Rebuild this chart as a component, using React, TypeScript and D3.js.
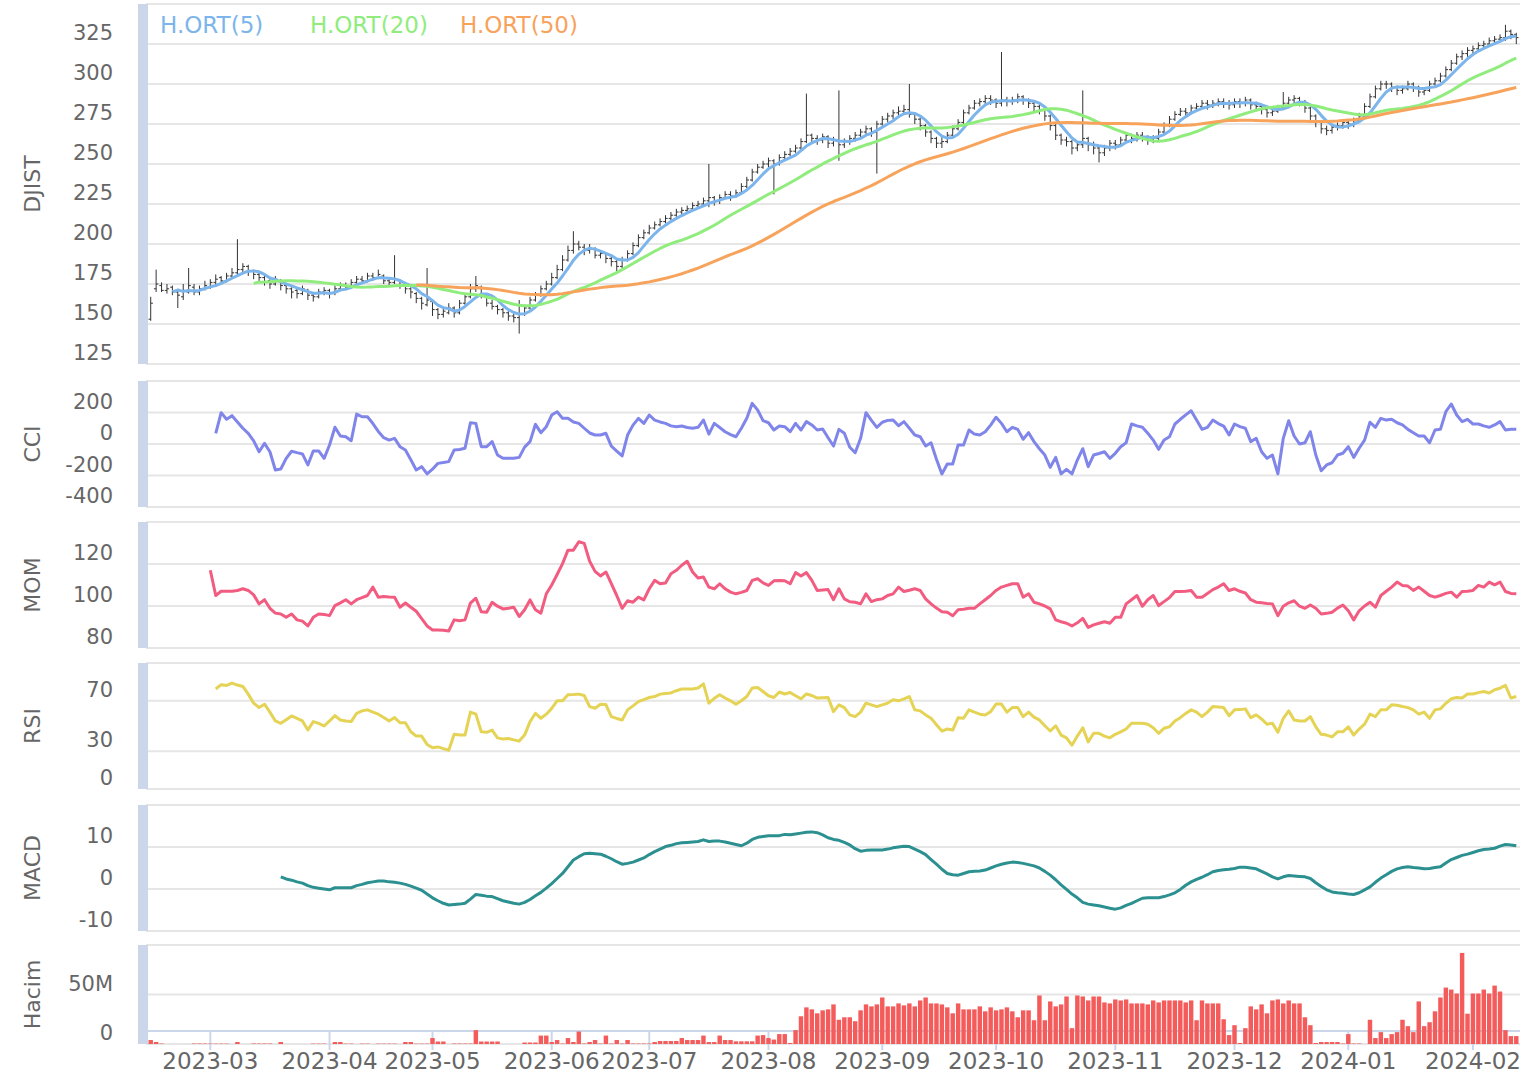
import React, { useEffect, useRef } from 'react';
import * as d3 from 'd3';

// trading days per month, first and last month are partial
const monthKeys = ['2023-02', '2023-03', '2023-04', '2023-05', '2023-06', '2023-07', '2023-08', '2023-09', '2023-10', '2023-11', '2023-12', '2024-01', '2024-02'];
const monthDays = [11, 22, 19, 22, 18, 22, 21, 21, 22, 22, 21, 23, 9];

const opens = [
  153, 172, 174, 171, 173, 170, 167, 170, 173, 170,
  172, 173, 176, 179, 177, 180, 182, 184, 186, 183,
  181, 179, 177, 175, 177, 174, 172, 171, 169, 171,
  168, 167, 170, 171, 169, 172, 174, 173, 176, 178,
  177, 180, 179, 180, 177, 176, 177, 174, 172, 169,
  166, 162, 164, 159, 156, 157, 160, 157, 163, 167,
  172, 173, 168, 163, 161, 159, 157, 155, 154, 156,
  160, 165, 168, 172, 175, 179, 184, 190, 196, 200,
  198, 196, 197, 193, 194, 191, 189, 186, 190, 194,
  199, 204, 207, 210, 212, 214, 216, 218, 220, 221,
  222, 224, 225, 227, 229, 227, 229, 231, 230, 232,
  236, 240, 245, 248, 250, 252, 250, 254, 256, 258,
  260, 264, 268, 266, 265, 267, 263, 265, 262, 264,
  266, 268, 270, 272, 270, 275, 278, 280, 282, 283,
  284, 281, 278, 274, 270, 266, 263, 264, 268, 272,
  276, 282, 285, 288, 289, 291, 290, 288, 290, 289,
  290, 292, 290, 288, 286, 284, 280, 274, 268, 265,
  264, 260, 262, 266, 262, 260, 257, 260, 263, 262,
  265, 268, 266, 268, 267, 265, 266, 270, 274, 278,
  281, 283, 282, 285, 286, 288, 287, 288, 289, 288,
  287, 289, 288, 290, 287, 286, 284, 282, 283, 285,
  288, 290, 291, 289, 285, 280, 276, 272, 271, 273,
  274, 276, 275, 277, 280, 286, 292, 297, 300, 300,
  298, 296, 297, 300, 298, 295, 296, 300, 302, 305,
  309, 313, 317, 319, 321, 322, 324, 325, 327, 328,
  329, 333, 331,
];
const highs = [
  167, 184, 176, 175, 174, 172, 175, 185, 175, 174,
  177, 178, 181, 180, 182, 185, 203, 188, 187, 184,
  182, 180, 178, 180, 178, 175, 173, 172, 174, 172,
  170, 172, 173, 172, 174, 176, 176, 178, 180, 180,
  182, 182, 184, 181, 179, 193, 178, 175, 173, 170,
  167, 185, 165, 160, 160, 163, 161, 165, 169, 175,
  180, 174, 169, 165, 162, 160, 158, 157, 165, 162,
  167, 170, 174, 177, 182, 187, 193, 199, 208, 202,
  200, 200, 198, 196, 195, 192, 190, 192, 196, 201,
  206, 209, 212, 214, 216, 218, 220, 222, 223, 224,
  226, 227, 229, 250, 230, 231, 233, 233, 234, 238,
  242, 247, 250, 252, 254, 253, 256, 258, 260, 262,
  266, 294, 269, 268, 269, 268, 267, 296, 266, 268,
  270, 272, 274, 273, 277, 280, 282, 284, 286, 287,
  300, 282, 279, 275, 271, 267, 267, 270, 274, 278,
  284, 287, 290, 291, 293, 293, 291, 320, 292, 292,
  294, 293, 291, 289, 287, 285, 281, 275, 269, 267,
  265, 264, 296, 267, 264, 261, 262, 265, 265, 267,
  270, 269, 270, 270, 268, 268, 272, 276, 280, 283,
  285, 285, 287, 288, 290, 290, 290, 291, 291, 290,
  291, 291, 292, 291, 289, 287, 285, 285, 287, 295,
  292, 293, 292, 290, 286, 281, 277, 274, 275, 276,
  278, 278, 279, 282, 288, 294, 299, 302, 302, 301,
  299, 299, 302, 301, 299, 298, 302, 304, 307, 311,
  315, 319, 321, 323, 324, 326, 327, 329, 330, 331,
  337, 334, 332,
];
const lows = [
  152, 170, 170, 169, 168, 160, 165, 169, 168, 168,
  171, 172, 174, 175, 176, 179, 181, 182, 180, 178,
  176, 174, 172, 174, 171, 169, 166, 166, 168, 165,
  164, 166, 168, 166, 168, 171, 171, 172, 175, 175,
  176, 177, 178, 175, 174, 175, 172, 169, 166, 163,
  159, 161, 155, 153, 154, 156, 154, 156, 162, 166,
  170, 166, 161, 159, 156, 154, 152, 151, 144, 155,
  159, 164, 167, 171, 174, 178, 183, 189, 194, 196,
  193, 194, 191, 191, 188, 186, 183, 185, 189, 193,
  198, 203, 206, 209, 211, 213, 215, 217, 218, 219,
  221, 222, 224, 223, 224, 225, 228, 227, 229, 231,
  235, 239, 244, 247, 248, 231, 249, 253, 255, 257,
  259, 263, 263, 262, 263, 260, 261, 252, 260, 262,
  264, 266, 268, 267, 244, 274, 276, 278, 280, 281,
  279, 275, 271, 267, 263, 260, 260, 263, 267, 271,
  275, 281, 284, 286, 287, 287, 285, 286, 286, 287,
  288, 287, 285, 283, 281, 277, 271, 265, 262, 261,
  256, 258, 260, 258, 256, 251, 255, 258, 259, 261,
  264, 263, 264, 264, 262, 263, 265, 269, 273, 277,
  280, 279, 281, 283, 285, 284, 285, 286, 285, 284,
  285, 285, 286, 284, 283, 281, 279, 280, 282, 284,
  287, 288, 286, 282, 277, 273, 269, 268, 269, 271,
  272, 272, 273, 276, 279, 285, 291, 296, 297, 295,
  293, 294, 296, 295, 292, 293, 295, 299, 301, 304,
  308, 312, 315, 317, 319, 320, 322, 324, 325, 326,
  327, 328, 325,
];
const closes = [
  163, 175, 171, 172, 170, 168, 171, 174, 170, 172,
  174, 176, 178, 177, 180, 182, 184, 186, 183, 181,
  179, 176, 175, 178, 174, 172, 170, 169, 172, 168,
  167, 170, 171, 169, 172, 174, 173, 176, 178, 177,
  180, 179, 181, 177, 176, 178, 174, 172, 170, 166,
  163, 165, 159, 156, 158, 160, 157, 163, 167, 172,
  174, 168, 163, 161, 159, 157, 155, 154, 156, 160,
  165, 168, 172, 175, 179, 184, 190, 196, 200, 198,
  196, 197, 193, 194, 191, 189, 186, 190, 194, 199,
  204, 207, 210, 212, 214, 216, 218, 220, 221, 222,
  224, 225, 227, 229, 227, 229, 231, 230, 232, 236,
  240, 245, 248, 250, 252, 250, 254, 256, 258, 260,
  264, 268, 266, 265, 267, 263, 265, 262, 264, 266,
  268, 270, 272, 270, 275, 278, 280, 282, 283, 284,
  281, 278, 274, 270, 266, 263, 264, 268, 272, 276,
  282, 285, 288, 289, 291, 290, 288, 290, 289, 290,
  292, 290, 288, 286, 284, 280, 274, 268, 265, 264,
  260, 262, 266, 262, 260, 257, 260, 263, 262, 265,
  268, 266, 268, 267, 265, 266, 270, 274, 278, 281,
  283, 282, 285, 286, 288, 287, 288, 289, 288, 287,
  289, 288, 290, 287, 286, 284, 282, 283, 285, 288,
  290, 291, 289, 285, 280, 276, 272, 271, 273, 274,
  276, 275, 277, 280, 286, 292, 297, 300, 300, 298,
  296, 297, 300, 298, 295, 296, 300, 302, 305, 309,
  313, 317, 319, 321, 322, 324, 325, 327, 328, 329,
  333, 331, 329,
];
// volume in millions
const volumes = [
  4, 2, 0.5, 0, 0, 0, 0, 0, 0.5, 0.5,
  0.5, 0.4, 0.4, 0.4, 0.4, 0, 2, 0, 0, 0.5,
  0.5, 0.5, 0.5, 0, 2, 0, 0, 0, 0, 0,
  0.4, 0.4, 0.4, 0, 2, 2, 0.4, 0.4, 0, 0.4,
  0.4, 0, 0.4, 0.4, 0.4, 0.4, 0, 2, 2, 0.4,
  0.4, 0.4, 6, 2.5, 2.5, 0, 0.5, 0.5, 0.5, 0.5,
  14, 2.5, 2.5, 2.5, 2.5, 0, 0, 0, 0, 1.5,
  1.5, 1.5, 8.5, 8.5, 2, 4, 0.5, 6, 2, 12.6,
  0.5, 2, 4, 0.5, 8.5, 0.5, 4, 0.5, 4, 0.5,
  0.5, 0.5, 0.5, 2, 3, 3, 3, 3, 6, 4,
  4, 4, 8.5, 2, 2, 8.5, 4, 4, 2.7, 2.7,
  2.7, 2.7, 8.5, 9, 6, 4.5, 10, 10, 1, 14,
  28, 37, 35, 31, 34, 35, 40, 24.5, 27, 27,
  23, 34, 40, 38, 40, 47, 38, 38, 41, 39,
  41, 38, 44, 47, 41, 41, 40, 37, 31, 41,
  35, 35, 35, 38, 33, 37, 34, 35, 37, 33,
  27, 34, 34, 24, 49, 24, 43, 38, 40, 48,
  16, 49, 48, 44, 48, 48, 42, 41, 45, 44,
  45, 41, 41, 41, 40, 44, 42, 44, 44, 44,
  44, 42, 44, 24, 44, 41, 41, 41, 25, 9,
  19, 1, 16, 38, 35, 40, 31, 44, 45, 41,
  44, 41, 41, 27, 19, 1, 2, 2, 2, 2,
  0.5, 10, 0.5, 0.5, 0, 24.5, 6, 12, 6, 10,
  12, 24.5, 18, 12, 43, 18, 22, 33, 47, 57,
  55, 51, 92, 30.6, 51, 51, 55, 51, 59, 53,
  14, 8, 8,
];

const cciStart = 12;
const cci = [
  68, 199, 157, 180, 140, 100, 68, 20, -49, 4,
  -49, -165, -159, -91, -46, -55, -63, -133, -44, -44,
  -91, -6, 106, 51, 46, 21, 190, 173, 173, 130,
  80, 40, 25, 36, -17, -38, -100, -165, -144, -190,
  -160, -123, -118, -112, -38, -35, -27, 135, 131, -17,
  -17, 15, -70, -91, -91, -91, -85, -20, 15, 125,
  72, 110, 184, 205, 163, 163, 140, 131, 100, 70,
  57, 57, 68, -13, -45, -76, 57, 120, 163, 131,
  184, 152, 140, 131, 115, 110, 114, 105, 100, 106,
  152, 63, 131, 105, 78, 60, 46, 100, 163, 258,
  216, 148, 135, 89, 114, 110, 78, 131, 89, 142,
  121, 89, 95, 40, -13, 93, 68, -21, -55, 36,
  199, 150, 106, 138, 150, 152, 116, 142, 100, 57,
  46, -13, 8, -97, -190, -127, -127, -6, -6, 89,
  63, 57, 78, 120, 170, 131, 78, 106, 93, 30,
  72, 15, -30, -70, -148, -85, -190, -161, -190, -102,
  -30, -144, -70, -60, -49, -91, -59, -17, 8, 127,
  115, 106, 68, 25, -34, 25, 46, 127, 157, 185,
  211, 152, 93, 106, 152, 130, 114, 57, 127, 110,
  100, 15, 36, -49, -91, -70, -190, 36, 148, 51,
  0, 8, 78, -70, -170, -133, -119, -70, -59, -17,
  -85, -27, 25, 138, 106, 163, 152, 157, 135, 121,
  93, 72, 51, 51, 8, 89, 93, 205, 254, 184,
  142, 157, 127, 127, 115, 106, 121, 142, 89, 93,
  93,
];

const momStart = 11;
const mom = [
  117, 105, 107, 107, 107, 107.4, 108.2, 107.4, 105.3, 101,
  103, 98.9, 96.6, 96.2, 94.6, 96.2, 93.4, 92.8, 90.5, 94.6,
  96.2, 96, 95.4, 100.2, 101.5, 103, 101, 103, 104, 105,
  109, 104.2, 104.5, 104.3, 104.2, 99.4, 101.4, 99.4, 97.5, 94,
  90.5, 88.6, 88.6, 88.5, 88.1, 93.4, 93, 93.4, 101.4, 103.7,
  97.3, 97, 101.8, 99.9, 98.6, 98.9, 99.4, 95, 98.2, 102.9,
  98.2, 96.6, 105.8, 110, 115, 120.2, 126.6, 126.6, 130.6, 129.8,
  121.3, 116.5, 114.3, 116.2, 110.6, 105, 98.9, 102.5, 101.8, 104.2,
  102.9, 108.2, 112.2, 110.6, 111, 115.4, 117, 119.4, 121.3, 116.2,
  113.3, 113.8, 109, 108.2, 110.6, 108.2, 106.6, 105.8, 106.5, 107.4,
  112.2, 113, 111, 109.8, 112, 112.2, 112, 110.6, 115.9, 114.3,
  115.9, 112.2, 107.4, 107.6, 107.8, 103, 108.2, 103.4, 102, 101.8,
  101, 105.8, 102.1, 103, 103.4, 105, 105.8, 109, 106.9, 107.5,
  108.2, 107.4, 103.4, 101, 99, 97.3, 97, 95.4, 98.2, 98.5,
  98.9, 98.9, 101, 103, 105, 107.4, 109, 109.8, 110.6, 110.6,
  104.2, 105.8, 101.8, 101, 100, 98.6, 93.4, 92.5, 91.8, 90.5,
  92, 94.1, 89.8, 91, 91.8, 92.5, 91.8, 94.6, 94.6, 101,
  103, 105, 99.9, 103, 105, 100.2, 102.1, 104, 106.9, 106.9,
  107, 107.4, 104.2, 104.2, 106, 107.8, 109, 110.6, 107.4, 108.2,
  107, 106.2, 103, 101.8, 101.5, 101.2, 101, 95.4, 99.9, 101.5,
  102.5, 99.9, 98.9, 100.5, 98.9, 96.2, 96.5, 97, 99, 100.5,
  97.7, 93.4, 97.7, 100, 101.8, 99.4, 105, 107, 109, 111.4,
  109.8, 109.5, 107.4, 109, 107, 105, 104.2, 105, 106, 106.6,
  104.2, 106.9, 107, 107.4, 109.8, 109, 111.4, 110.1, 111.4, 106.9,
  106, 105.8,
];

const rsiStart = 12;
const rsi = [
  79.4, 82.8, 82.2, 84.1, 82.5, 81.4, 75.3, 68.1, 64.7, 67.3,
  61, 54, 52.1, 55, 58, 56.1, 54, 46.8, 53.5, 52.1,
  50, 54, 58.2, 54.8, 54, 53.5, 60.1, 62, 62.8, 61,
  59.4, 56.7, 54, 56.7, 52.6, 52.6, 45.4, 42, 42, 35.4,
  32.7, 33.4, 32, 30.8, 43.4, 42.8, 42.8, 61, 59.4, 45.4,
  45, 46.8, 40.6, 39.6, 40.1, 39, 38, 42.8, 53.5, 60.1,
  56.1, 59.4, 64, 70, 70, 74.8, 75, 75.3, 74.2, 65.4,
  64.1, 67.3, 67, 57.4, 56, 54.8, 62.8, 66, 69.4, 71,
  72.6, 73.4, 75.3, 75.8, 76.2, 78, 79.4, 79.4, 79.4, 80.2,
  83.4, 68.1, 72, 74.8, 72.2, 70, 67.3, 70, 73.4, 80.2,
  80.5, 77.4, 74, 72.6, 77, 75.4, 76.6, 74, 71.6, 75.4,
  74.2, 72.2, 72.4, 72.6, 61.4, 66.8, 64.6, 58.8, 57.4, 61,
  68.2, 66.8, 65.4, 66.8, 68.2, 70.8, 70, 71.5, 73.4, 62.8,
  62, 58.8, 56.1, 51, 46, 47.6, 46.8, 56.6, 56.1, 62.8,
  61, 59.4, 58.8, 61.4, 67.4, 67.4, 61, 64.6, 64.6, 57.4,
  61, 57, 54.8, 50.2, 46, 50.2, 42.8, 40.6, 34.8, 42,
  48.6, 37.4, 44.2, 44.2, 42, 40.6, 43.4, 45.4, 47.6, 52.2,
  52.2, 52.2, 51.4, 48.6, 44.2, 48.2, 49.4, 54, 56.6, 60,
  62.8, 61, 57.4, 61, 65.4, 65, 64.6, 58.2, 62.8, 63,
  63.6, 56.6, 58.8, 55.6, 51.4, 52.2, 45, 56.1, 62, 54.8,
  54, 54, 57.4, 49.4, 43.4, 42.8, 41.4, 45.4, 45.4, 49.4,
  42.8, 47.6, 51.4, 59.4, 57.4, 62.8, 62.8, 66.8, 66.5, 65.5,
  64.6, 62.8, 59.4, 61, 56.1, 62.8, 63.6, 68, 71.6, 72.6,
  72.2, 75.4, 75.4, 76.5, 77.4, 76.2, 78.8, 80, 82.2, 72.2,
  73.4,
];

const macdStart = 24;
const macd = [
  2.9, 2.4, 2.1, 1.7, 1.4, 0.8, 0.4, 0.2, 0, -0.2,
  0.3, 0.3, 0.3, 0.3, 0.8, 1.1, 1.5, 1.7, 1.9, 1.9,
  1.7, 1.6, 1.4, 1.1, 0.7, 0.2, -0.3, -1.2, -2.1, -2.8,
  -3.4, -3.8, -3.7, -3.6, -3.4, -2.4, -1.3, -1.5, -1.7, -1.8,
  -2.3, -2.8, -3.1, -3.4, -3.6, -3.2, -2.5, -1.6, -0.8, 0.2,
  1.3, 2.5, 3.7, 5.3, 6.9, 7.7, 8.4, 8.5, 8.4, 8.3,
  7.8, 7.2, 6.5, 5.9, 6.1, 6.4, 6.9, 7.4, 8.2, 8.9,
  9.5, 10.1, 10.4, 10.8, 11, 11.1, 11.2, 11.3, 11.7, 11.3,
  11.4, 11.4, 11.2, 10.9, 10.6, 10.3, 10.9, 11.8, 12.3, 12.5,
  12.7, 12.7, 12.7, 13, 12.9, 13.1, 13.3, 13.5, 13.6, 13.4,
  12.9, 12.2, 11.8, 11.6, 11.1, 10.5, 9.6, 9, 9.2, 9.3,
  9.3, 9.3, 9.5, 9.8, 10, 10.2, 10.1, 9.5, 8.9, 8.2,
  7, 5.9, 4.7, 3.7, 3.4, 3.3, 3.7, 4.1, 4.2, 4.3,
  4.5, 5, 5.5, 5.9, 6.2, 6.4, 6.3, 6.1, 5.8, 5.5,
  5, 4.2, 3.3, 2.2, 1, -0.1, -1.2, -2.1, -3.2, -3.6,
  -3.8, -4, -4.3, -4.6, -4.8, -4.5, -3.9, -3.4, -2.8, -2.2,
  -2.1, -2.1, -2.1, -1.8, -1.4, -0.9, -0.1, 0.9, 1.7, 2.3,
  2.8, 3.4, 4.1, 4.4, 4.6, 4.7, 4.9, 5.2, 5.2, 5,
  4.8, 4.2, 3.6, 2.9, 2.4, 2.9, 3.2, 3.1, 3, 2.9,
  2.5, 1.5, 0.6, -0.2, -0.7, -0.9, -1, -1.2, -1.3, -0.9,
  -0.2, 0.5, 1.6, 2.6, 3.4, 4.2, 4.8, 5.1, 5.3, 5.1,
  5, 4.8, 4.9, 5.1, 5.3, 6.2, 7, 7.5, 8, 8.3,
  8.7, 9.1, 9.4, 9.5, 9.7, 10.2, 10.6, 10.5, 10.3,
];

const maPeriods = [5, 20, 50];
const maNames = ['H.ORT(5)', 'H.ORT(20)', 'H.ORT(50)'];

const W = 1527;
const H = 1075;
const plotLeft = 148;
const plotRight = 1519;
const textColor = '#666666';
const gridColor = '#e6e6e6';
const axisColor = '#ccd6eb';
const font = "'DejaVu Sans', sans-serif";

export default function App() {
  const ref = useRef<SVGSVGElement>(null);

  useEffect(() => {
    const svg = d3.select(ref.current);
    svg.selectAll('*').remove();

    const days: string[] = [];
    const monthStart: number[] = [];
    monthKeys.forEach((m, k) => {
      monthStart.push(days.length);
      for (let d = 0; d < monthDays[k]; d++) days.push(`${m}/${d + 1}`);
    });

    const x = d3.scaleBand<string>().domain(days).range([plotLeft, plotRight]);
    const cx = (i: number) => (x(days[i]) as number) + x.bandwidth() / 2;

    const panels = [
      { name: 'DJIST', domain: [125, 350], range: [364, 4], ticks: d3.range(125, 351, 25), fmt: (d: number) => String(d) },
      { name: 'CCI', domain: [-400, 400], range: [507, 381], ticks: [-400, -200, 0, 200, 400], fmt: (d: number) => String(d) },
      { name: 'MOM', domain: [80, 140], range: [648, 522], ticks: [80, 100, 120, 140], fmt: (d: number) => String(d) },
      { name: 'RSI', domain: [0, 100], range: [789, 663], ticks: [0, 30, 70, 100], fmt: (d: number) => String(d) },
      { name: 'MACD', domain: [-10, 20], range: [931, 805], ticks: [-10, 0, 10, 20], fmt: (d: number) => String(d) },
      { name: 'Hacim', domain: [0, 100], range: [1044, 945], ticks: [0, 50, 100], fmt: (d: number) => (d === 0 ? '0' : `${d}M`) },
    ];

    const ys = panels.map(p => d3.scaleLinear().domain(p.domain).range(p.range));

    panels.forEach((p, k) => {
      const y = ys[k];
      const g = svg.append('g');
      g.selectAll('line.grid')
        .data(p.ticks)
        .enter()
        .append('line')
        .attr('x1', plotLeft - 2)
        .attr('x2', plotRight + 1)
        .attr('y1', d => y(d))
        .attr('y2', d => y(d))
        .attr('stroke', gridColor)
        .attr('stroke-width', 2);
      g.append('rect')
        .attr('x', 138)
        .attr('width', 10)
        .attr('y', p.range[1])
        .attr('height', p.range[0] - p.range[1])
        .attr('fill', axisColor);
      g.selectAll('text.tick')
        .data(p.ticks.slice(0, -1))
        .enter()
        .append('text')
        .attr('x', 113)
        .attr('y', d => y(d) - 4)
        .attr('text-anchor', 'end')
        .attr('font-size', 21)
        .attr('fill', textColor)
        .text(d => p.fmt(d));
      const mid = (p.range[0] + p.range[1]) / 2;
      g.append('text')
        .attr('transform', `translate(40, ${mid}) rotate(-90)`)
        .attr('text-anchor', 'middle')
        .attr('font-size', 22)
        .attr('fill', textColor)
        .text(p.name);
    });

    // x axis line and month ticks under the volume pane
    svg.append('line')
      .attr('x1', plotLeft - 2).attr('x2', plotRight + 1)
      .attr('y1', 1031).attr('y2', 1031)
      .attr('stroke', axisColor).attr('stroke-width', 2);
    const labelled = monthStart.slice(1);
    svg.append('g')
      .selectAll('line')
      .data(labelled)
      .enter()
      .append('line')
      .attr('x1', d => cx(d)).attr('x2', d => cx(d))
      .attr('y1', 1031).attr('y2', 1050)
      .attr('stroke', axisColor).attr('stroke-width', 2);
    svg.append('g')
      .selectAll('text')
      .data(labelled)
      .enter()
      .append('text')
      .attr('x', d => cx(d))
      .attr('y', 1069)
      .attr('text-anchor', 'middle')
      .attr('font-size', 23)
      .attr('fill', textColor)
      .text((d, k) => monthKeys[k + 1]);

    // volume bars
    const yv = ys[5];
    const bw = x.bandwidth() * 0.82;
    svg.append('g')
      .selectAll('rect')
      .data(volumes)
      .enter()
      .append('rect')
      .attr('x', (d, i) => cx(i) - bw / 2)
      .attr('width', bw)
      .attr('y', d => yv(d))
      .attr('height', d => yv(0) - yv(d))
      .attr('fill', '#f45b5b');

    // OHLC bars
    const yp = ys[0];
    const tick = 2.2;
    svg.append('path')
      .attr('d', closes.map((c, i) => {
        const px = cx(i);
        return `M${px},${yp(highs[i])}V${yp(lows[i])}M${px - tick},${yp(opens[i])}H${px}M${px},${yp(c)}H${px + tick}`;
      }).join(''))
      .attr('stroke', '#333333')
      .attr('stroke-width', 1)
      .attr('fill', 'none');

    // moving averages
    const maColors = ['#7cb5ec', '#90ed7d', '#f7a35c'];
    maPeriods.forEach((p, k) => {
      const vals = closes.map((_, i) => (i < p - 1 ? null : d3.mean(closes.slice(i - p + 1, i + 1)) as number));
      const line = d3.line<number | null>()
        .defined(d => d !== null)
        .x((d, i) => cx(i))
        .y(d => yp(d as number));
      svg.append('path')
        .attr('d', line(vals) as string)
        .attr('fill', 'none')
        .attr('stroke', maColors[k])
        .attr('stroke-width', 3)
        .attr('stroke-linejoin', 'round');
    });

    // indicator lines
    const indicators = [
      { values: cci, start: cciStart, pane: 1, color: '#8085e9' },
      { values: mom, start: momStart, pane: 2, color: '#f15c80' },
      { values: rsi, start: rsiStart, pane: 3, color: '#e4d354' },
      { values: macd, start: macdStart, pane: 4, color: '#2b908f' },
    ];
    indicators.forEach(ind => {
      const y = ys[ind.pane];
      const line = d3.line<number>()
        .x((d, i) => cx(i + ind.start))
        .y(d => y(d));
      svg.append('path')
        .attr('d', line(ind.values) as string)
        .attr('fill', 'none')
        .attr('stroke', ind.color)
        .attr('stroke-width', 3)
        .attr('stroke-linejoin', 'round');
    });

    // legend
    const legendX = [160, 310, 460];
    svg.append('g')
      .selectAll('text')
      .data(maNames)
      .enter()
      .append('text')
      .attr('x', (d, k) => legendX[k])
      .attr('y', 33)
      .attr('font-size', 23)
      .attr('fill', (d, k) => maColors[k])
      .text(d => d);
  }, []);

  return (
    <svg
      ref={ref}
      width={W}
      height={H}
      style={{ position: 'absolute', left: 0, top: 0, background: '#ffffff', fontFamily: font }}
    />
  );
}
